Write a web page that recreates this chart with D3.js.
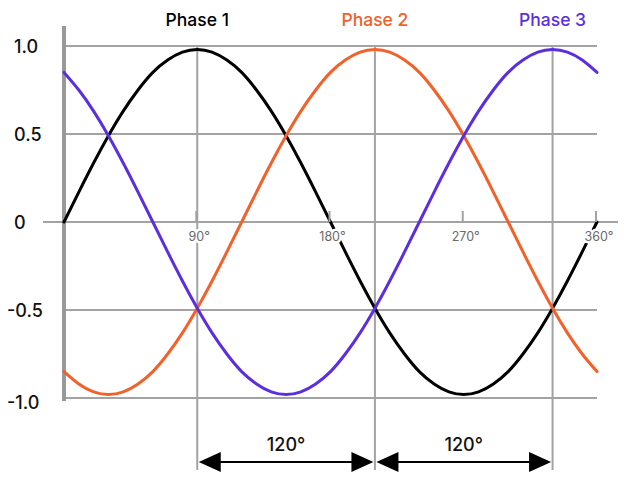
<!DOCTYPE html>
<html>
<head>
<meta charset="utf-8">
<script src="https://cdn.jsdelivr.net/npm/d3@7"></script>
<style>
  html, body { margin: 0; padding: 0; background: #fff; }
  svg { display: block; font-family: Inter, "Noto Sans", sans-serif; }
</style>
</head>
<body>
<svg id="chart" width="624" height="483"></svg>
<script>
// ---- data ----
const angles = [0,10,20,30,40,50,60,70,80,90,100,110,120,130,140,150,160,170,180,
                190,200,210,220,230,240,250,260,270,280,290,300,310,320,330,340,350,360];
const phase1 = [0,0.17,0.335,0.49,0.63,0.75,0.85,0.92,0.965,0.98,0.965,0.92,0.85,0.75,0.63,0.49,0.335,0.17,0,
                -0.17,-0.335,-0.49,-0.63,-0.75,-0.85,-0.92,-0.965,-0.98,-0.965,-0.92,-0.85,-0.75,-0.63,-0.49,-0.335,-0.17,0];
const phase2 = [-0.85,-0.92,-0.965,-0.98,-0.965,-0.92,-0.85,-0.75,-0.63,-0.49,-0.335,-0.17,0,0.17,0.335,0.49,0.63,0.75,0.85,
                0.92,0.965,0.98,0.965,0.92,0.85,0.75,0.63,0.49,0.335,0.17,0,-0.17,-0.335,-0.49,-0.63,-0.75,-0.85];
const phase3 = [0.85,0.75,0.63,0.49,0.335,0.17,0,-0.17,-0.335,-0.49,-0.63,-0.75,-0.85,-0.92,-0.965,-0.98,-0.965,-0.92,-0.85,
                -0.75,-0.63,-0.49,-0.335,-0.17,0,0.17,0.335,0.49,0.63,0.75,0.85,0.92,0.965,0.98,0.965,0.92,0.85];
const seriesNames = ["Phase 1", "Phase 2", "Phase 3"];
const seriesColors = ["#000000", "#f2612a", "#5b2ee0"];
const seriesPeaks = [90, 210, 330];
const yTicks = [1.0, 0.5, 0, -0.5, -1.0];
const yTickLabels = ["1.0", "0.5", "0", "-0.5", "-1.0"];
const xTicks = [90, 180, 270, 360];
const xTickLabels = ["90°", "180°", "270°", "360°"];
const gridAngles = [90, 210, 330];
const spans = [[90, 210], [210, 330]];
const spanLabels = ["120°", "120°"];

// ---- drawing ----
const svg = d3.select("#chart");
const x = d3.scaleLinear().domain([0, 360]).range([64, 597]);
const y = d3.scaleLinear().domain([-1, 1]).range([398, 46]);
const grid = "#a3a3a3";

// horizontal gridlines
svg.append("g").selectAll("line").data(yTicks.filter(d => d !== 0)).join("line")
  .attr("x1", x(0)).attr("x2", 597)
  .attr("y1", d => y(d)).attr("y2", d => y(d))
  .attr("stroke", grid).attr("stroke-width", 2);

// zero axis
svg.append("line").attr("x1", 43).attr("x2", 618)
  .attr("y1", y(0)).attr("y2", y(0)).attr("stroke", grid).attr("stroke-width", 2);

// vertical gridlines
svg.append("g").selectAll("line").data(gridAngles).join("line")
  .attr("x1", d => x(d)).attr("x2", d => x(d))
  .attr("y1", y(1)).attr("y2", 470)
  .attr("stroke", grid).attr("stroke-width", 2);

// left axis
svg.append("line").attr("x1", 64).attr("x2", 64).attr("y1", 26).attr("y2", 401)
  .attr("stroke", "#999").attr("stroke-width", 4);

// y labels
svg.append("g").selectAll("text").data(yTicks).join("text")
  .attr("x", d => d < 0 ? 7 : 14).attr("y", d => y(d))
  .attr("dy", d => d === -1 ? "0.62em" : "0.38em")
  .attr("font-size", 18).attr("font-weight", 500).attr("fill", "#111")
  .text((d, i) => yTickLabels[i]);

// curves
const allSeries = [phase1, phase2, phase3];
const line = d3.line().x((d, i) => x(angles[i])).y(d => y(d)).curve(d3.curveNatural);
svg.append("g").selectAll("path").data(allSeries).join("path")
  .attr("d", d => line(d)).attr("fill", "none")
  .attr("stroke", (d, i) => seriesColors[i]).attr("stroke-width", 3)
  .attr("stroke-linecap", "round");

// x ticks (drawn over the curves, labels with white halo)
svg.append("g").selectAll("line").data(xTicks).join("line")
  .attr("x1", d => x(d) - 1).attr("x2", d => x(d) - 1)
  .attr("y1", y(0) - 11).attr("y2", y(0))
  .attr("stroke", grid).attr("stroke-width", 2);
svg.append("g").selectAll("text").data(xTicks).join("text")
  .attr("x", d => x(d) + 2).attr("y", y(0) + 19)
  .attr("text-anchor", "middle").attr("font-size", 12.5).attr("fill", "#6a6a6a")
  .attr("stroke", "#fff").attr("stroke-width", 5).attr("paint-order", "stroke")
  .attr("stroke-linejoin", "round")
  .text((d, i) => xTickLabels[i]);

// series labels
svg.append("g").selectAll("text").data(seriesNames).join("text")
  .attr("x", (d, i) => x(seriesPeaks[i]))
  .attr("y", 26)
  .attr("text-anchor", "middle").attr("font-size", 17.5).attr("font-weight", 500)
  .attr("fill", (d, i) => seriesColors[i])
  .text(d => d);

// arrows
const ay = 462;
const g = svg.append("g");
spans.forEach((s, i) => {
  const x0 = x(s[0]) + 1.5, x1 = x(s[1]) - 1.5;
  g.append("line").attr("x1", x0 + 10).attr("x2", x1 - 10).attr("y1", ay).attr("y2", ay)
    .attr("stroke", "#000").attr("stroke-width", 2);
  g.append("path").attr("d", `M${x0},${ay} L${x0 + 22},${ay - 10} L${x0 + 22},${ay + 10} Z`).attr("fill", "#000");
  g.append("path").attr("d", `M${x1},${ay} L${x1 - 22},${ay - 10} L${x1 - 22},${ay + 10} Z`).attr("fill", "#000");
  g.append("text").attr("x", (x(s[0]) + x(s[1])) / 2).attr("y", 451)
    .attr("text-anchor", "middle").attr("font-size", 18).attr("font-weight", 500).attr("fill", "#111")
    .text(spanLabels[i]);
});
</script>
</body>
</html>
